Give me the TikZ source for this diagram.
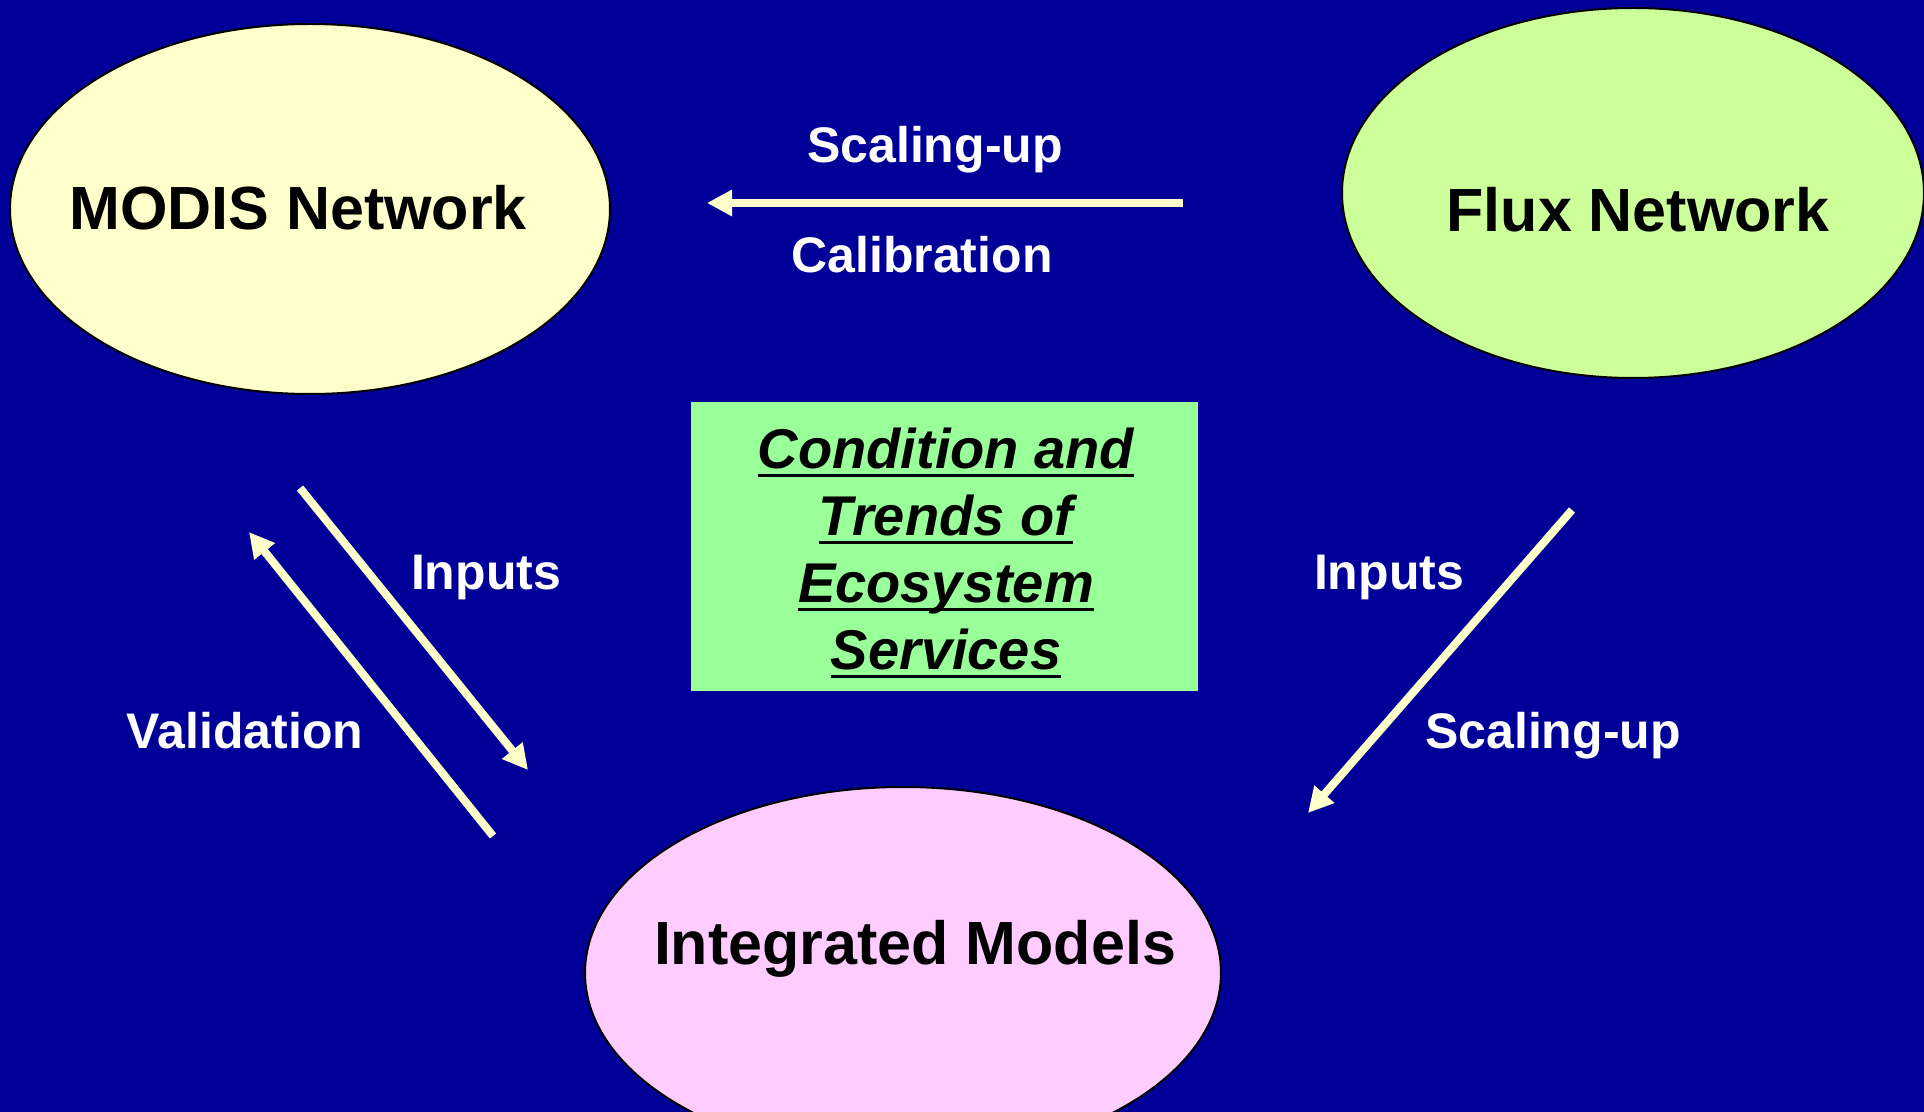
\documentclass[tikz,border=0pt]{standalone}
\usepackage{fontspec}
\setmainfont{Liberation Sans}
\usetikzlibrary{arrows.meta}
\usetikzlibrary{shapes}

\definecolor{bgblue}{HTML}{000099}
\definecolor{modisfill}{HTML}{FFFFCC}
\definecolor{fluxfill}{HTML}{CCFF99}
\definecolor{intfill}{HTML}{FFCCFF}
\definecolor{boxfill}{HTML}{99FF99}
\definecolor{arrowfill}{HTML}{FFFFCC}

\newsavebox{\ulbox}
\newcommand{\undertext}[1]{\sbox{\ulbox}{#1}\rlap{\rule[-4.5pt]{\wd\ulbox}{1.5pt}}\usebox{\ulbox}}

\tikzset{
    netshape/.style={draw=black, line width=1pt, ellipse, inner sep=0pt},
    nettext/.style={anchor=base, text=black, font=\fontsize{30.5pt}{36pt}\selectfont\bfseries},
    lbltext/.style={anchor=base, text=white, font=\fontsize{25pt}{30pt}\selectfont\bfseries},
    flow/.style={draw=arrowfill, line width=4pt, -{Triangle[length=12.5pt,width=12.5pt]}}
}

\begin{document}
\begin{tikzpicture}[x=0.5pt, y=-0.5pt]

    % Background
    \useasboundingbox (0, 0) rectangle (1924, 1112);
    \fill[bgblue] (0, 0) rectangle (1924, 1112);

    % Declare the networks
    \node[netshape, fill=modisfill, minimum width=300pt, minimum height=185pt] at (310, 209) (MODIS) {};
    \node[netshape, fill=fluxfill, minimum width=291pt, minimum height=185pt] at (1633, 193) (FLUX) {};
    \node[netshape, fill=intfill, minimum width=318pt, minimum height=186pt] at (903, 973) (INT) {};
    \node[nettext] at (298, 230) (MODISlbl) {MODIS Network};
    \node[nettext] at (1638, 232) (FLUXlbl) {Flux Network};
    \node[nettext] at (915, 964) (INTlbl) {Integrated Models};

    % Declare the centre box
    \node[fill=boxfill, minimum width=253.5pt, minimum height=144.5pt] at (944.5, 546.5) (CTES) {};
    \node[align=center, font=\fontsize{28pt}{33.5pt}\selectfont\bfseries\itshape] at (946, 553) (CTESlbl)
        {\undertext{Condition and}\\ \undertext{Trends of}\\ \undertext{Ecosystem}\\ \undertext{Services}};

    % Declare arrow ends
    \coordinate (topTail) at (1183, 203);
    \coordinate (topTip) at (707, 203);
    \coordinate (inTail) at (300, 488);
    \coordinate (inTip) at (528, 770);
    \coordinate (valTail) at (493, 836);
    \coordinate (valTip) at (249, 532);
    \coordinate (upTail) at (1572, 510);
    \coordinate (upTip) at (1308, 813);

    % Declare edges
    \draw[flow] (topTail) -- (topTip);
    \draw[flow] (inTail) -- (inTip);
    \draw[flow] (valTail) -- (valTip);
    \draw[flow] (upTail) -- (upTip);

    % Declare edge labels
    \node[lbltext] at (935, 163) (scaleTop) {Scaling-up};
    \node[lbltext] at (922, 273) (calib) {Calibration};
    \node[lbltext] at (486, 590) (inLeft) {Inputs};
    \node[lbltext] at (245, 748) (valid) {Validation};
    \node[lbltext] at (1389, 590) (inRight) {Inputs};
    \node[lbltext] at (1553, 748) (scaleRight) {Scaling-up};

\end{tikzpicture}
\end{document}
